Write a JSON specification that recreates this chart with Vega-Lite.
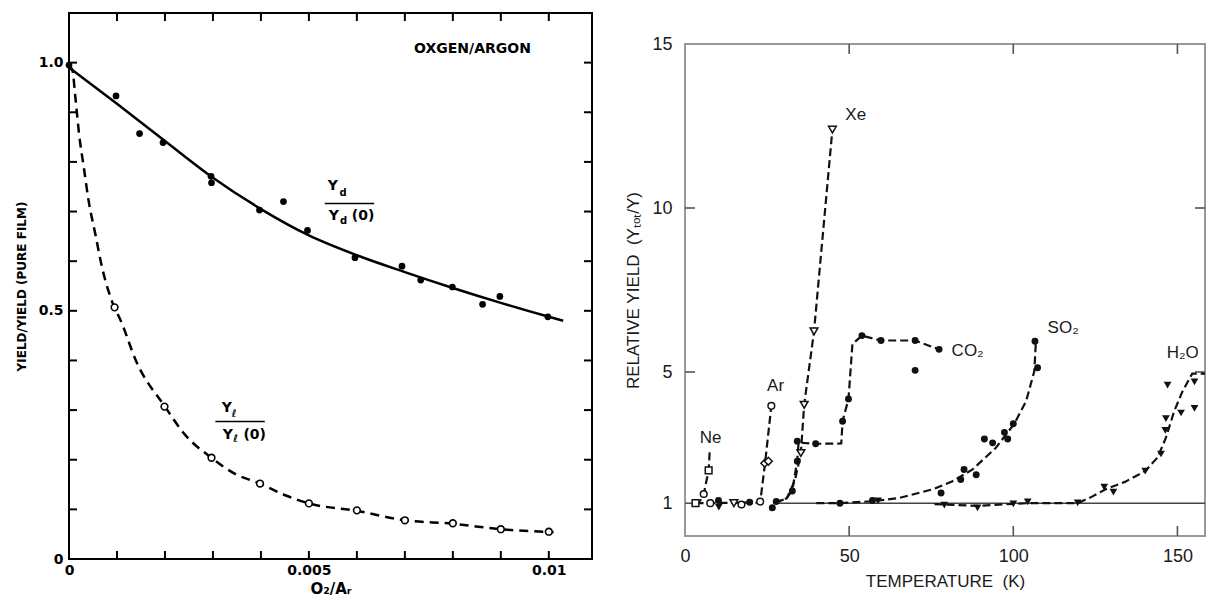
{
  "$schema": "https://vega.github.io/schema/vega-lite/v6.json",
  "background": "white",
  "padding": {"left": 14, "top": 11, "right": 0, "bottom": 0},
  "spacing": 29,
  "config": {
    "axis": {"domain": false, "grid": false, "labelOverlap": false, "labelFlush": false, "ticks": false, "tickSize": 0},
    "text": {"baseline": "middle", "align": "center"}
  },
  "datasets": {
    "yd_pts": [
      {"ratio": 0, "yield": 0.995}, {"ratio": 0.00098, "yield": 0.933}, {"ratio": 0.00147, "yield": 0.857},
      {"ratio": 0.00196, "yield": 0.839}, {"ratio": 0.00296, "yield": 0.771}, {"ratio": 0.00297, "yield": 0.758},
      {"ratio": 0.00397, "yield": 0.703}, {"ratio": 0.00447, "yield": 0.72}, {"ratio": 0.00497, "yield": 0.662},
      {"ratio": 0.00596, "yield": 0.607}, {"ratio": 0.00694, "yield": 0.59}, {"ratio": 0.00733, "yield": 0.562},
      {"ratio": 0.00799, "yield": 0.548}, {"ratio": 0.00862, "yield": 0.513}, {"ratio": 0.00898, "yield": 0.529},
      {"ratio": 0.00998, "yield": 0.488}
    ],
    "yl_pts": [
      {"ratio": 0.00095, "yield": 0.507}, {"ratio": 0.00199, "yield": 0.307}, {"ratio": 0.00297, "yield": 0.204},
      {"ratio": 0.00398, "yield": 0.152}, {"ratio": 0.005, "yield": 0.112}, {"ratio": 0.006, "yield": 0.098},
      {"ratio": 0.007, "yield": 0.078}, {"ratio": 0.008, "yield": 0.072}, {"ratio": 0.009, "yield": 0.06},
      {"ratio": 0.01, "yield": 0.055}
    ],
    "yd_fit": [
      {"ratio": 0, "yield": 0.99}, {"ratio": 0.001, "yield": 0.917}, {"ratio": 0.002, "yield": 0.842},
      {"ratio": 0.003, "yield": 0.768}, {"ratio": 0.004, "yield": 0.705}, {"ratio": 0.005, "yield": 0.652},
      {"ratio": 0.006, "yield": 0.612}, {"ratio": 0.007, "yield": 0.578}, {"ratio": 0.008, "yield": 0.546},
      {"ratio": 0.009, "yield": 0.516}, {"ratio": 0.01, "yield": 0.488}, {"ratio": 0.0103, "yield": 0.48}
    ],
    "yl_fit": [
      {"ratio": 0, "yield": 0.995}, {"ratio": 0.00007, "yield": 0.985}, {"ratio": 0.00014, "yield": 0.923},
      {"ratio": 0.00021, "yield": 0.856}, {"ratio": 0.00031, "yield": 0.788}, {"ratio": 0.00041, "yield": 0.721},
      {"ratio": 0.00055, "yield": 0.654}, {"ratio": 0.00069, "yield": 0.587}, {"ratio": 0.00087, "yield": 0.526},
      {"ratio": 0.00111, "yield": 0.473}, {"ratio": 0.00138, "yield": 0.403}, {"ratio": 0.002, "yield": 0.307},
      {"ratio": 0.00243, "yield": 0.249}, {"ratio": 0.00297, "yield": 0.204}, {"ratio": 0.00347, "yield": 0.171},
      {"ratio": 0.00398, "yield": 0.152}, {"ratio": 0.00452, "yield": 0.128}, {"ratio": 0.005, "yield": 0.112},
      {"ratio": 0.006, "yield": 0.097}, {"ratio": 0.007, "yield": 0.078}, {"ratio": 0.008, "yield": 0.071},
      {"ratio": 0.009, "yield": 0.06}, {"ratio": 0.0101, "yield": 0.054}
    ],
    "frac_big": [
      {"ratio": 0.0055, "yield": 0.751, "text": "Y"}, {"ratio": 0.00552, "yield": 0.691, "text": "Y"},
      {"ratio": 0.00613, "yield": 0.691, "text": "(0)"},
      {"ratio": 0.00329, "yield": 0.304, "text": "Y"}, {"ratio": 0.00331, "yield": 0.249, "text": "Y"},
      {"ratio": 0.00387, "yield": 0.249, "text": "(0)"}
    ],
    "frac_sub": [
      {"ratio": 0.00571, "yield": 0.737, "text": "d"}, {"ratio": 0.00572, "yield": 0.68, "text": "d"},
      {"ratio": 0.00344, "yield": 0.293, "text": "ℓ"}, {"ratio": 0.00347, "yield": 0.241, "text": "ℓ"}
    ],
    "frac_bar": [
      {"ratio": 0.00533, "ratio_end": 0.00636, "yield": 0.716},
      {"ratio": 0.00305, "ratio_end": 0.00408, "yield": 0.277}
    ],
    "ratio_ticks": [
      {"ratio": 0.001, "yield": 0, "yield_end": 0.0161}, {"ratio": 0.001, "yield": 1.1, "yield_end": 1.0839},
      {"ratio": 0.002, "yield": 0, "yield_end": 0.0161}, {"ratio": 0.002, "yield": 1.1, "yield_end": 1.0839},
      {"ratio": 0.003, "yield": 0, "yield_end": 0.0161}, {"ratio": 0.003, "yield": 1.1, "yield_end": 1.0839},
      {"ratio": 0.004, "yield": 0, "yield_end": 0.0161}, {"ratio": 0.004, "yield": 1.1, "yield_end": 1.0839},
      {"ratio": 0.005, "yield": 0, "yield_end": 0.0161}, {"ratio": 0.005, "yield": 1.1, "yield_end": 1.0839},
      {"ratio": 0.006, "yield": 0, "yield_end": 0.0161}, {"ratio": 0.006, "yield": 1.1, "yield_end": 1.0839},
      {"ratio": 0.007, "yield": 0, "yield_end": 0.0161}, {"ratio": 0.007, "yield": 1.1, "yield_end": 1.0839},
      {"ratio": 0.008, "yield": 0, "yield_end": 0.0161}, {"ratio": 0.008, "yield": 1.1, "yield_end": 1.0839},
      {"ratio": 0.009, "yield": 0, "yield_end": 0.0161}, {"ratio": 0.009, "yield": 1.1, "yield_end": 1.0839},
      {"ratio": 0.01, "yield": 0, "yield_end": 0.0161}, {"ratio": 0.01, "yield": 1.1, "yield_end": 1.0839}
    ],
    "yield_ticks": [
      {"yield": 0.1, "ratio": 0, "ratio_end": 0.000167}, {"yield": 0.1, "ratio": 0.0109, "ratio_end": 0.010733},
      {"yield": 0.2, "ratio": 0, "ratio_end": 0.000167}, {"yield": 0.2, "ratio": 0.0109, "ratio_end": 0.010733},
      {"yield": 0.3, "ratio": 0, "ratio_end": 0.000167}, {"yield": 0.3, "ratio": 0.0109, "ratio_end": 0.010733},
      {"yield": 0.4, "ratio": 0, "ratio_end": 0.000167}, {"yield": 0.4, "ratio": 0.0109, "ratio_end": 0.010733},
      {"yield": 0.5, "ratio": 0, "ratio_end": 0.000167}, {"yield": 0.5, "ratio": 0.0109, "ratio_end": 0.010733},
      {"yield": 0.6, "ratio": 0, "ratio_end": 0.000167}, {"yield": 0.6, "ratio": 0.0109, "ratio_end": 0.010733},
      {"yield": 0.7, "ratio": 0, "ratio_end": 0.000167}, {"yield": 0.7, "ratio": 0.0109, "ratio_end": 0.010733},
      {"yield": 0.8, "ratio": 0, "ratio_end": 0.000167}, {"yield": 0.8, "ratio": 0.0109, "ratio_end": 0.010733},
      {"yield": 0.9, "ratio": 0, "ratio_end": 0.000167}, {"yield": 0.9, "ratio": 0.0109, "ratio_end": 0.010733},
      {"yield": 1.0, "ratio": 0, "ratio_end": 0.000167}, {"yield": 1.0, "ratio": 0.0109, "ratio_end": 0.010733}
    ],
    "T_ticks": [
      {"T": 50, "Y": 0, "Y_end": 0.305}, {"T": 50, "Y": 15, "Y_end": 14.695},
      {"T": 100, "Y": 0, "Y_end": 0.305}, {"T": 100, "Y": 15, "Y_end": 14.695},
      {"T": 150, "Y": 0, "Y_end": 0.305}, {"T": 150, "Y": 15, "Y_end": 14.695}
    ],
    "Y_ticks": [
      {"Y": 1, "T": 0, "T_end": 3.05}, {"Y": 5, "T": 0, "T_end": 3.05}, {"Y": 10, "T": 0, "T_end": 3.05},
      {"Y": 5, "T": 158.4, "T_end": 155.35}, {"Y": 10, "T": 158.4, "T_end": 155.35}
    ],
    "gas_curves": [
      {"gas": "Ne", "i": 1, "T": 7.5, "Y": 2.55}, {"gas": "Ne", "i": 2, "T": 7.2, "Y": 2.0},
      {"gas": "Ne", "i": 3, "T": 5.7, "Y": 1.28}, {"gas": "Ne", "i": 4, "T": 4.5, "Y": 1.05},
      {"gas": "Ar", "i": 1, "T": 3.2, "Y": 1.0}, {"gas": "Ar", "i": 2, "T": 22.9, "Y": 1.02},
      {"gas": "Ar", "i": 3, "T": 24.4, "Y": 2.23}, {"gas": "Ar", "i": 4, "T": 26.3, "Y": 3.97},
      {"gas": "Xe", "i": 1, "T": 27, "Y": 1.0}, {"gas": "Xe", "i": 2, "T": 31, "Y": 1.15},
      {"gas": "Xe", "i": 3, "T": 33.5, "Y": 1.7}, {"gas": "Xe", "i": 4, "T": 35.3, "Y": 2.53},
      {"gas": "Xe", "i": 5, "T": 36.3, "Y": 4.0}, {"gas": "Xe", "i": 6, "T": 39.3, "Y": 6.24},
      {"gas": "Xe", "i": 7, "T": 44.9, "Y": 12.39},
      {"gas": "CO2", "i": 1, "T": 27.8, "Y": 1.02}, {"gas": "CO2", "i": 2, "T": 31, "Y": 1.15},
      {"gas": "CO2", "i": 3, "T": 32.7, "Y": 1.4}, {"gas": "CO2", "i": 4, "T": 34.2, "Y": 2.3},
      {"gas": "CO2", "i": 5, "T": 34.6, "Y": 2.85}, {"gas": "CO2", "i": 6, "T": 39.8, "Y": 2.81},
      {"gas": "CO2", "i": 7, "T": 47.6, "Y": 2.82}, {"gas": "CO2", "i": 8, "T": 48, "Y": 3.5},
      {"gas": "CO2", "i": 9, "T": 49.8, "Y": 4.18}, {"gas": "CO2", "i": 10, "T": 51, "Y": 5.85},
      {"gas": "CO2", "i": 11, "T": 53.9, "Y": 6.11}, {"gas": "CO2", "i": 12, "T": 59.7, "Y": 5.96},
      {"gas": "CO2", "i": 13, "T": 70.1, "Y": 5.96}, {"gas": "CO2", "i": 14, "T": 77.4, "Y": 5.69},
      {"gas": "SO2", "i": 1, "T": 40, "Y": 1.0}, {"gas": "SO2", "i": 2, "T": 47.2, "Y": 1.0},
      {"gas": "SO2", "i": 3, "T": 57.1, "Y": 1.06}, {"gas": "SO2", "i": 4, "T": 65.2, "Y": 1.16},
      {"gas": "SO2", "i": 5, "T": 75.4, "Y": 1.42}, {"gas": "SO2", "i": 6, "T": 81.5, "Y": 1.67},
      {"gas": "SO2", "i": 7, "T": 87.6, "Y": 2.03}, {"gas": "SO2", "i": 8, "T": 94.7, "Y": 2.69},
      {"gas": "SO2", "i": 9, "T": 100.3, "Y": 3.42}, {"gas": "SO2", "i": 10, "T": 103.9, "Y": 4.11},
      {"gas": "SO2", "i": 11, "T": 106.4, "Y": 5.02}, {"gas": "SO2", "i": 12, "T": 106.9, "Y": 5.94},
      {"gas": "H2O", "i": 1, "T": 76, "Y": 0.97}, {"gas": "H2O", "i": 2, "T": 89.1, "Y": 0.92},
      {"gas": "H2O", "i": 3, "T": 100, "Y": 0.98}, {"gas": "H2O", "i": 4, "T": 104.4, "Y": 1.0},
      {"gas": "H2O", "i": 5, "T": 119.6, "Y": 1.0}, {"gas": "H2O", "i": 6, "T": 124, "Y": 1.2},
      {"gas": "H2O", "i": 7, "T": 128, "Y": 1.42}, {"gas": "H2O", "i": 8, "T": 134, "Y": 1.65},
      {"gas": "H2O", "i": 9, "T": 140.2, "Y": 1.98}, {"gas": "H2O", "i": 10, "T": 144, "Y": 2.4},
      {"gas": "H2O", "i": 11, "T": 146.5, "Y": 3.0}, {"gas": "H2O", "i": 12, "T": 149, "Y": 3.8},
      {"gas": "H2O", "i": 13, "T": 151.5, "Y": 4.4}, {"gas": "H2O", "i": 14, "T": 154.5, "Y": 4.95},
      {"gas": "H2O", "i": 15, "T": 158.4, "Y": 4.95}
    ],
    "open_circles": [
      {"gas": "Ne", "T": 5.7, "Y": 1.28}, {"gas": "Ne", "T": 7.7, "Y": 1.0}, {"gas": "Ne", "T": 17.2, "Y": 0.96},
      {"gas": "Ar", "T": 22.9, "Y": 1.05}, {"gas": "Ar", "T": 26.3, "Y": 3.97}
    ],
    "open_squares": [
      {"gas": "Ne", "T": 3.2, "Y": 1.0}, {"gas": "Ne", "T": 7.2, "Y": 2.0}
    ],
    "open_diamonds": [
      {"gas": "Ar", "T": 24.3, "Y": 2.22}, {"gas": "Ar", "T": 25.4, "Y": 2.28}
    ],
    "open_triangles": [
      {"gas": "Xe", "T": 14.9, "Y": 1.0}, {"gas": "Xe", "T": 35.3, "Y": 2.53}, {"gas": "Xe", "T": 36.3, "Y": 4.0},
      {"gas": "Xe", "T": 39.3, "Y": 6.24}, {"gas": "Xe", "T": 44.9, "Y": 12.39}
    ],
    "filled_circles": [
      {"gas": "CO2", "T": 10.2, "Y": 1.08}, {"gas": "CO2", "T": 19.7, "Y": 1.03}, {"gas": "CO2", "T": 26.6, "Y": 0.86},
      {"gas": "CO2", "T": 27.8, "Y": 1.05}, {"gas": "CO2", "T": 32.7, "Y": 1.37}, {"gas": "CO2", "T": 34.2, "Y": 2.28},
      {"gas": "CO2", "T": 34.2, "Y": 2.89}, {"gas": "CO2", "T": 39.8, "Y": 2.81}, {"gas": "CO2", "T": 48, "Y": 3.5},
      {"gas": "CO2", "T": 49.8, "Y": 4.18}, {"gas": "CO2", "T": 53.9, "Y": 6.11}, {"gas": "CO2", "T": 59.7, "Y": 5.96},
      {"gas": "CO2", "T": 70.1, "Y": 5.96}, {"gas": "CO2", "T": 77.4, "Y": 5.69}, {"gas": "CO2", "T": 70.1, "Y": 5.05},
      {"gas": "SO2", "T": 47.2, "Y": 1.0}, {"gas": "SO2", "T": 57.1, "Y": 1.08}, {"gas": "SO2", "T": 78, "Y": 1.31},
      {"gas": "SO2", "T": 84, "Y": 1.72}, {"gas": "SO2", "T": 85, "Y": 2.03}, {"gas": "SO2", "T": 88.7, "Y": 1.87},
      {"gas": "SO2", "T": 91.2, "Y": 2.96}, {"gas": "SO2", "T": 93.7, "Y": 2.84}, {"gas": "SO2", "T": 97.3, "Y": 3.16},
      {"gas": "SO2", "T": 98.3, "Y": 2.96}, {"gas": "SO2", "T": 100, "Y": 3.42}, {"gas": "SO2", "T": 107.4, "Y": 5.13},
      {"gas": "SO2", "T": 106.6, "Y": 5.94}
    ],
    "filled_triangles": [
      {"gas": "H2O", "T": 10.3, "Y": 0.88}, {"gas": "H2O", "T": 58.8, "Y": 1.07}, {"gas": "H2O", "T": 79, "Y": 0.94},
      {"gas": "H2O", "T": 89.1, "Y": 0.86}, {"gas": "H2O", "T": 100, "Y": 0.98}, {"gas": "H2O", "T": 104.4, "Y": 1.04},
      {"gas": "H2O", "T": 119.6, "Y": 1.01}, {"gas": "H2O", "T": 127.7, "Y": 1.49}, {"gas": "H2O", "T": 130.5, "Y": 1.34},
      {"gas": "H2O", "T": 140.2, "Y": 1.98}, {"gas": "H2O", "T": 145, "Y": 2.5}, {"gas": "H2O", "T": 146.3, "Y": 3.22},
      {"gas": "H2O", "T": 146.5, "Y": 3.58}, {"gas": "H2O", "T": 147, "Y": 4.6}, {"gas": "H2O", "T": 151.1, "Y": 3.75},
      {"gas": "H2O", "T": 155.2, "Y": 3.89}, {"gas": "H2O", "T": 155.2, "Y": 4.7}
    ],
    "gas_labels": [
      {"T": 7.8, "Y": 3.0, "text": "Ne"}, {"T": 27.6, "Y": 4.57, "text": "Ar"}, {"T": 52, "Y": 12.85, "text": "Xe"},
      {"T": 86.1, "Y": 5.63, "text": "CO₂"}, {"T": 115.2, "Y": 6.35, "text": "SO₂"}, {"T": 151.6, "Y": 5.58, "text": "H₂O"}
    ]
  },
  "hconcat": [
    {
      "width": 523,
      "height": 546,
      "view": {"stroke": "#000", "strokeWidth": 2},
      "encoding": {
        "x": {
          "field": "ratio", "type": "quantitative",
          "scale": {"domain": [0, 0.0109], "nice": false, "zero": false},
          "axis": {
            "orient": "bottom",
            "values": [0, 0.005, 0.01],
            "labelExpr": "round(datum.value*1000) == 0 ? '0' : round(datum.value*1000) == 5 ? '0.005' : '0.01'",
            "labelFont": "DejaVu Sans", "labelFontSize": 14, "labelFontWeight": "bold", "labelColor": "#000", "labelPadding": 4,
            "title": "O₂/Aᵣ", "titleFont": "DejaVu Sans", "titleFontSize": 15, "titleFontWeight": "bold", "titleColor": "#000", "titlePadding": 4
          }
        },
        "y": {
          "field": "yield", "type": "quantitative",
          "scale": {"domain": [0, 1.1], "nice": false, "zero": false},
          "axis": {
            "orient": "left",
            "values": [0, 0.5, 1.0],
            "labelExpr": "round(datum.value*10) == 0 ? '0' : round(datum.value*10) == 5 ? '0.5' : '1.0'",
            "labelFont": "DejaVu Sans", "labelFontSize": 14, "labelFontWeight": "bold", "labelColor": "#000", "labelPadding": 6,
            "title": "YIELD/YIELD (PURE FILM)", "titleFont": "DejaVu Sans", "titleFontSize": 12, "titleFontWeight": "bold", "titleColor": "#000", "titlePadding": 10
          }
        }
      },
      "layer": [
        {"data": {"name": "ratio_ticks"}, "mark": {"type": "rule", "color": "#000", "strokeWidth": 2}, "encoding": {"y2": {"field": "yield_end"}}},
        {"data": {"name": "yield_ticks"}, "mark": {"type": "rule", "color": "#000", "strokeWidth": 2}, "encoding": {"x2": {"field": "ratio_end"}}},
        {"data": {"name": "yd_fit"}, "mark": {"type": "line", "interpolate": "monotone", "color": "#000", "strokeWidth": 2.5}},
        {"data": {"name": "yl_fit"}, "mark": {"type": "line", "interpolate": "monotone", "color": "#000", "strokeWidth": 2.5, "strokeDash": [9, 6]}},
        {"data": {"name": "yd_pts"}, "mark": {"type": "circle", "color": "#000", "size": 45, "opacity": 1}},
        {"data": {"name": "yl_pts"}, "mark": {"type": "point", "shape": "circle", "filled": true, "fill": "white", "stroke": "#000", "strokeWidth": 1.6, "size": 45, "opacity": 1}},
        {"data": {"name": "frac_bar"}, "mark": {"type": "rule", "color": "#000", "strokeWidth": 1.5}, "encoding": {"x2": {"field": "ratio_end"}}},
        {"data": {"name": "frac_big"}, "mark": {"type": "text", "font": "DejaVu Sans", "fontSize": 14, "fontWeight": "bold", "color": "#000"}, "encoding": {"text": {"field": "text"}}},
        {"data": {"name": "frac_sub"}, "mark": {"type": "text", "font": "DejaVu Sans", "fontSize": 10, "fontWeight": "bold", "color": "#000"}, "encoding": {"text": {"field": "text"}}},
        {"data": {"values": [{"ratio": 0.00841, "yield": 1.027, "text": "OXGEN/ARGON"}]}, "mark": {"type": "text", "font": "DejaVu Sans", "fontSize": 14, "fontWeight": "bold", "color": "#000"}, "encoding": {"text": {"field": "text"}}}
      ]
    },
    {
      "spacing": 0,
      "vconcat": [
        {
          "width": 10,
          "height": 21,
          "view": {"stroke": null},
          "data": {"values": [{}]},
          "mark": {"type": "text", "text": ""},
          "encoding": {}
        },
        {
          "width": 520,
          "height": 492,
          "view": {"stroke": "#999", "strokeWidth": 2},
          "encoding": {
            "x": {
              "field": "T", "type": "quantitative",
              "scale": {"domain": [0, 158.4], "nice": false, "zero": false},
              "axis": {
                "orient": "bottom", "values": [0, 50, 100, 150],
                "labelFont": "Liberation Sans", "labelFontSize": 18, "labelColor": "#1a1a1a", "labelPadding": 11,
                "title": "TEMPERATURE\u00a0\u00a0(K)", "titleFont": "Liberation Sans", "titleFontSize": 17, "titleFontWeight": "normal", "titleColor": "#1a1a1a", "titlePadding": 8
              }
            },
            "y": {
              "field": "Y", "type": "quantitative",
              "scale": {"domain": [0, 15], "nice": false, "zero": false},
              "axis": {
                "orient": "left", "values": [1, 5, 10, 15],
                "labelFont": "Liberation Sans", "labelFontSize": 18, "labelColor": "#1a1a1a", "labelPadding": 13,
                "title": "RELATIVE YIELD\u00a0\u00a0(Yₜₒₜ/Y)", "titleFont": "Liberation Sans", "titleFontSize": 17, "titleFontWeight": "normal", "titleColor": "#1a1a1a", "titlePadding": 9
              }
            }
          },
          "layer": [
            {"data": {"name": "T_ticks"}, "mark": {"type": "rule", "color": "#555", "strokeWidth": 1.6}, "encoding": {"y2": {"field": "Y_end"}}},
            {"data": {"name": "Y_ticks"}, "mark": {"type": "rule", "color": "#555", "strokeWidth": 1.6}, "encoding": {"x2": {"field": "T_end"}}},
            {"data": {"values": [{"T": 27, "T_end": 158.4, "Y": 1}]}, "mark": {"type": "rule", "color": "#444", "strokeWidth": 1.5}, "encoding": {"x2": {"field": "T_end"}}},
            {"data": {"name": "gas_curves"}, "mark": {"type": "line", "color": "#111", "strokeWidth": 2.2, "strokeDash": [8, 4]}, "encoding": {"detail": {"field": "gas"}, "order": {"field": "i"}}},
            {"data": {"name": "filled_circles"}, "mark": {"type": "circle", "color": "#111", "size": 48, "opacity": 1}},
            {"data": {"name": "filled_triangles"}, "mark": {"type": "point", "shape": "triangle-down", "filled": true, "color": "#111", "size": 60, "opacity": 1}},
            {"data": {"name": "open_circles"}, "mark": {"type": "point", "shape": "circle", "filled": true, "fill": "white", "stroke": "#111", "strokeWidth": 1.5, "size": 45, "opacity": 1}},
            {"data": {"name": "open_squares"}, "mark": {"type": "point", "shape": "square", "filled": true, "fill": "white", "stroke": "#111", "strokeWidth": 1.5, "size": 45, "opacity": 1}},
            {"data": {"name": "open_diamonds"}, "mark": {"type": "point", "shape": "diamond", "filled": true, "fill": "white", "stroke": "#111", "strokeWidth": 1.5, "size": 60, "opacity": 1}},
            {"data": {"name": "open_triangles"}, "mark": {"type": "point", "shape": "triangle-down", "filled": true, "fill": "white", "stroke": "#111", "strokeWidth": 1.5, "size": 60, "opacity": 1}},
            {"data": {"name": "gas_labels"}, "mark": {"type": "text", "font": "Liberation Sans", "fontSize": 17, "color": "#1a1a1a"}, "encoding": {"text": {"field": "text"}}}
          ]
        }
      ]
    }
  ]
}
